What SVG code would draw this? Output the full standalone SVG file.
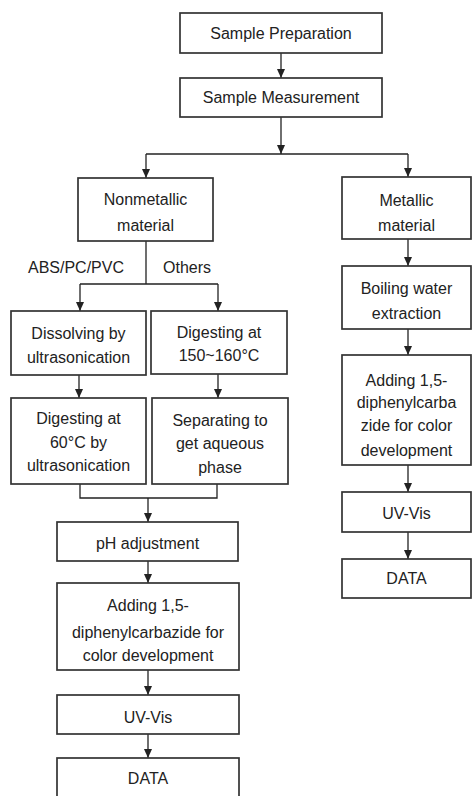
<svg xmlns="http://www.w3.org/2000/svg" width="473" height="796" viewBox="0 0 473 796">
<style>
.box{fill:#fff;stroke:#333;stroke-width:1.7}
.c{fill:none;stroke:#222;stroke-width:1.3}
text{font-family:"Liberation Sans",Arial,sans-serif;font-size:16px;fill:#222;text-anchor:middle}
</style>
<defs>
<marker id="a" markerUnits="userSpaceOnUse" markerWidth="9" markerHeight="8" refX="9" refY="4" orient="auto" viewBox="0 0 9 8">
<path d="M0,0 L9,4 L0,8 Z" fill="#222"/>
</marker>
</defs>
<rect width="473" height="796" fill="#fff"/>
<g id="connectors">
<path class="c" d="M281,53 V78" marker-end="url(#a)"/>
<path class="c" d="M281,117 V154" marker-end="url(#a)"/>
<path class="c" d="M146,154 H408"/>
<path class="c" d="M146,154 V178" marker-end="url(#a)"/>
<path class="c" d="M408,154 V177" marker-end="url(#a)"/>
<path class="c" d="M408,239 V266" marker-end="url(#a)"/>
<path class="c" d="M408,329 V355" marker-end="url(#a)"/>
<path class="c" d="M408,465 V492" marker-end="url(#a)"/>
<path class="c" d="M408,532 V559" marker-end="url(#a)"/>
<path class="c" d="M146,241 V284 M80,284 H218"/>
<path class="c" d="M80,284 V311" marker-end="url(#a)"/>
<path class="c" d="M218,284 V311" marker-end="url(#a)"/>
<path class="c" d="M79,375 V398" marker-end="url(#a)"/>
<path class="c" d="M218,374 V398" marker-end="url(#a)"/>
<path class="c" d="M80,484 V498 H217 V484"/>
<path class="c" d="M148,498 V522" marker-end="url(#a)"/>
<path class="c" d="M148,561 V583" marker-end="url(#a)"/>
<path class="c" d="M148,670 V695" marker-end="url(#a)"/>
<path class="c" d="M148,734 V758" marker-end="url(#a)"/>
<text x="76" y="273">ABS/PC/PVC</text>
<text x="187" y="273">Others</text>
</g>
<g id="prep"><rect class="box" x="180" y="13" width="202" height="40"/><text x="281" y="39">Sample Preparation</text></g>
<g id="meas"><rect class="box" x="180" y="78" width="202" height="39"/><text x="281" y="103">Sample Measurement</text></g>
<g id="nonmetal"><rect class="box" x="78" y="178" width="135" height="63"/><text x="145.5" y="205">Nonmetallic</text><text x="145.5" y="231">material</text></g>
<g id="metal"><rect class="box" x="342" y="177" width="129" height="62"/><text x="406.5" y="206">Metallic</text><text x="406.5" y="231">material</text></g>
<g id="boiling"><rect class="box" x="342" y="266" width="129" height="63"/><text x="406.5" y="294">Boiling water</text><text x="406.5" y="319">extraction</text></g>
<g id="addingR"><rect class="box" x="342" y="355" width="129" height="110"/><text x="406.5" y="386">Adding 1,5-</text><text x="406.5" y="408">diphenylcarba</text><text x="406.5" y="431">zide for color</text><text x="406.5" y="456">development</text></g>
<g id="uvR"><rect class="box" x="342" y="492" width="129" height="40"/><text x="406.5" y="519">UV-Vis</text></g>
<g id="dataR"><rect class="box" x="342" y="559" width="129" height="39"/><text x="406.5" y="584">DATA</text></g>
<g id="dissolving"><rect class="box" x="11" y="311" width="135" height="64"/><text x="78.5" y="339">Dissolving by</text><text x="78.5" y="363">ultrasonication</text></g>
<g id="dig150"><rect class="box" x="151" y="311" width="136" height="63"/><text x="219" y="338">Digesting at</text><text x="219" y="361">150~160°C</text></g>
<g id="dig60"><rect class="box" x="11" y="398" width="135" height="86"/><text x="78.5" y="424">Digesting at</text><text x="78.5" y="448">60°C by</text><text x="78.5" y="471">ultrasonication</text></g>
<g id="separating"><rect class="box" x="152" y="398" width="136" height="86"/><text x="220" y="426">Separating to</text><text x="220" y="449">get aqueous</text><text x="220" y="473">phase</text></g>
<g id="ph"><rect class="box" x="57" y="522" width="181" height="39"/><text x="147.5" y="549">pH adjustment</text></g>
<g id="addingL"><rect class="box" x="57" y="583" width="182" height="87"/><text x="148" y="611">Adding 1,5-</text><text x="148" y="638">diphenylcarbazide for</text><text x="148" y="661">color development</text></g>
<g id="uvL"><rect class="box" x="57" y="695" width="182" height="39"/><text x="148" y="723">UV-Vis</text></g>
<g id="dataL"><rect class="box" x="57" y="758" width="182" height="44"/><text x="148" y="784">DATA</text></g>
</svg>
